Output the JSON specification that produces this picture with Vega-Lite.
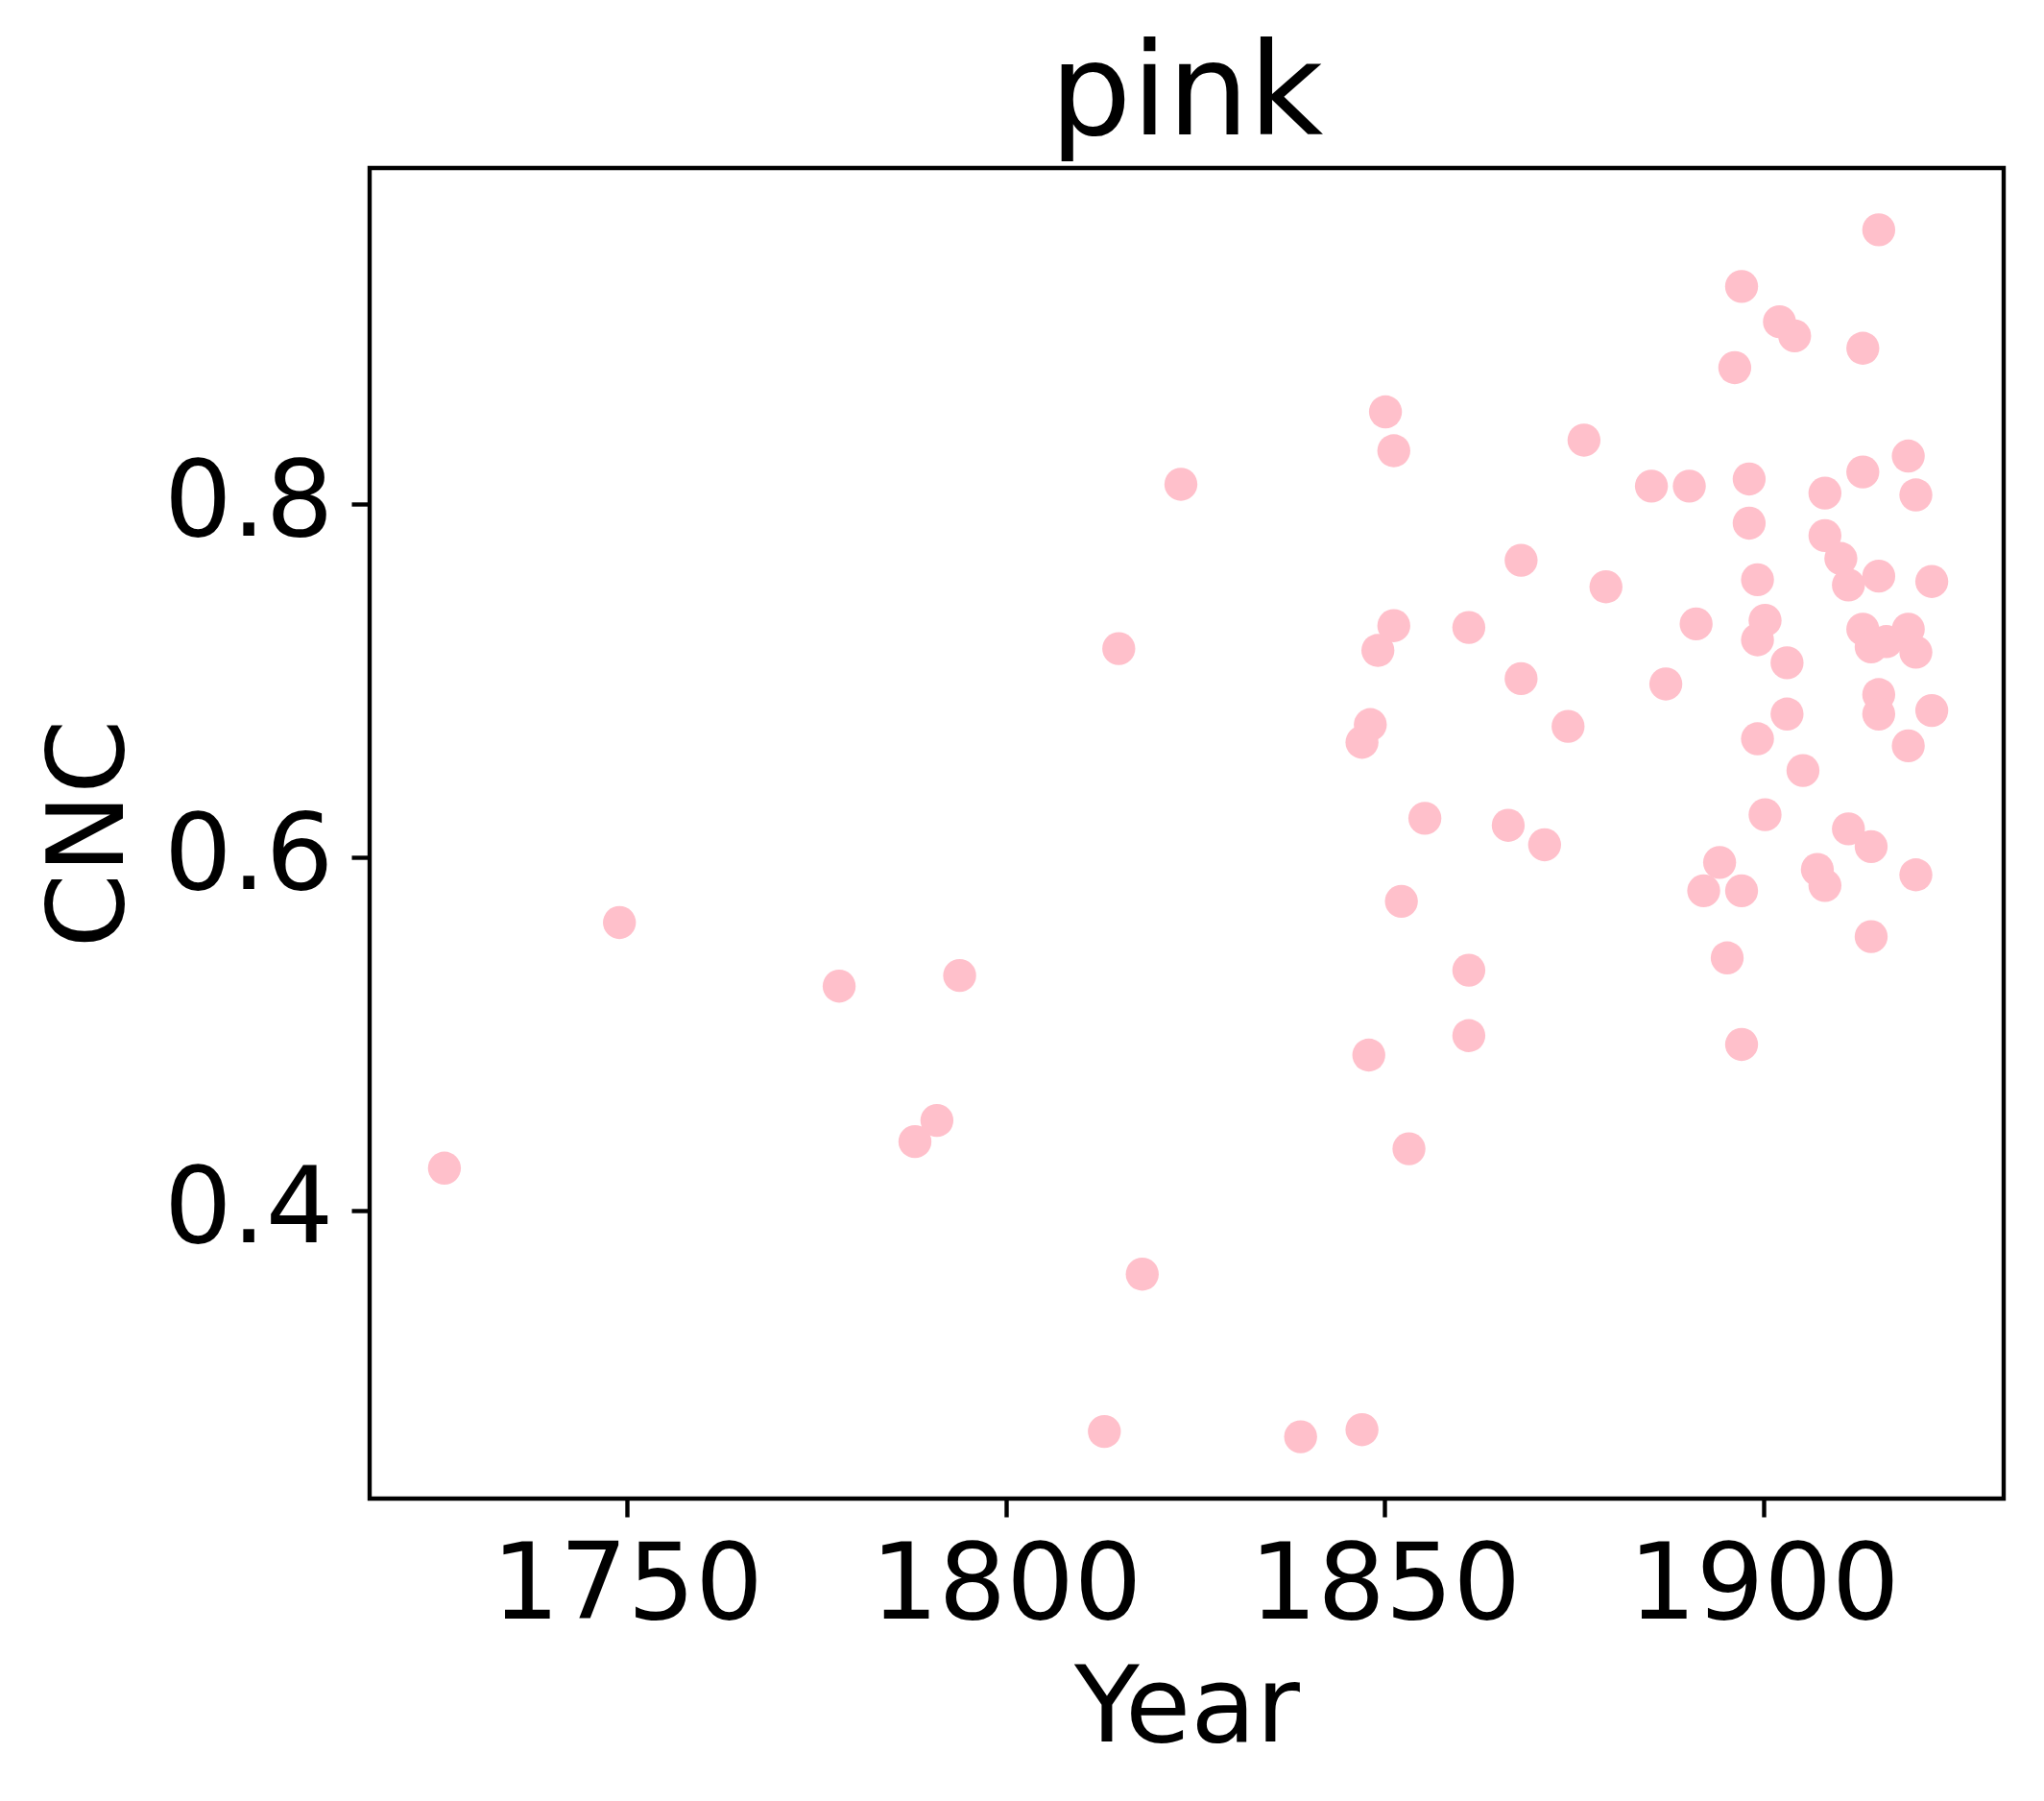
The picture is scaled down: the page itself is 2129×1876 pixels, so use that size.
{
  "$schema": "https://vega.github.io/schema/vega-lite/v6.json",
  "width": 1702,
  "height": 1386,
  "autosize": {"type": "none"},
  "padding": {"left": 385, "top": 175, "right": 42, "bottom": 315},
  "background": "white",
  "config": {
    "view": {"stroke": "black", "strokeWidth": 4.4},
    "font": "DejaVu Sans",
    "axis": {
      "domain": false,
      "grid": false,
      "ticks": true,
      "tickColor": "black",
      "tickWidth": 4.4,
      "tickSize": 19,
      "labelFont": "DejaVu Sans",
      "labelFontSize": 111,
      "labelColor": "black",
      "labelOverlap": false,
      "labelFlush": false,
      "labelLimit": 0,
      "titleFont": "DejaVu Sans",
      "titleFontSize": 111,
      "titleFontWeight": "normal",
      "titleColor": "black",
      "titleLimit": 0
    }
  },
  "title": {
    "text": "pink",
    "font": "DejaVu Sans",
    "fontSize": 134,
    "fontWeight": "normal",
    "color": "black",
    "baseline": "alphabetic",
    "offset": 32,
    "dy": 131,
    "anchor": "middle",
    "limit": 0
  },
  "data": {
    "values": [
      {"Year": 1725.9, "CNC": 0.424},
      {"Year": 1749.0, "CNC": 0.563},
      {"Year": 1778.0, "CNC": 0.527},
      {"Year": 1793.9, "CNC": 0.533},
      {"Year": 1788.0, "CNC": 0.439},
      {"Year": 1790.9, "CNC": 0.451},
      {"Year": 1818.0, "CNC": 0.364},
      {"Year": 1813.0, "CNC": 0.275},
      {"Year": 1814.9, "CNC": 0.718},
      {"Year": 1823.1, "CNC": 0.811},
      {"Year": 1838.9, "CNC": 0.272},
      {"Year": 1847.0, "CNC": 0.276},
      {"Year": 1847.0, "CNC": 0.665},
      {"Year": 1848.1, "CNC": 0.675},
      {"Year": 1847.9, "CNC": 0.488},
      {"Year": 1849.1, "CNC": 0.717},
      {"Year": 1850.1, "CNC": 0.852},
      {"Year": 1851.2, "CNC": 0.830},
      {"Year": 1851.2, "CNC": 0.731},
      {"Year": 1852.2, "CNC": 0.575},
      {"Year": 1853.2, "CNC": 0.435},
      {"Year": 1855.3, "CNC": 0.622},
      {"Year": 1861.1, "CNC": 0.730},
      {"Year": 1861.1, "CNC": 0.536},
      {"Year": 1861.1, "CNC": 0.499},
      {"Year": 1866.3, "CNC": 0.618},
      {"Year": 1868.0, "CNC": 0.768},
      {"Year": 1868.0, "CNC": 0.701},
      {"Year": 1871.1, "CNC": 0.607},
      {"Year": 1874.2, "CNC": 0.674},
      {"Year": 1876.3, "CNC": 0.836},
      {"Year": 1879.2, "CNC": 0.753},
      {"Year": 1885.2, "CNC": 0.810},
      {"Year": 1887.1, "CNC": 0.698},
      {"Year": 1890.2, "CNC": 0.810},
      {"Year": 1891.1, "CNC": 0.732},
      {"Year": 1892.1, "CNC": 0.581},
      {"Year": 1894.2, "CNC": 0.597},
      {"Year": 1895.2, "CNC": 0.543},
      {"Year": 1896.2, "CNC": 0.877},
      {"Year": 1897.1, "CNC": 0.923},
      {"Year": 1897.1, "CNC": 0.581},
      {"Year": 1897.1, "CNC": 0.494},
      {"Year": 1898.1, "CNC": 0.814},
      {"Year": 1898.1, "CNC": 0.789},
      {"Year": 1899.2, "CNC": 0.757},
      {"Year": 1899.2, "CNC": 0.723},
      {"Year": 1899.2, "CNC": 0.667},
      {"Year": 1900.2, "CNC": 0.734},
      {"Year": 1900.2, "CNC": 0.624},
      {"Year": 1902.1, "CNC": 0.903},
      {"Year": 1903.1, "CNC": 0.710},
      {"Year": 1903.1, "CNC": 0.681},
      {"Year": 1904.1, "CNC": 0.895},
      {"Year": 1905.2, "CNC": 0.649},
      {"Year": 1907.1, "CNC": 0.593},
      {"Year": 1908.1, "CNC": 0.806},
      {"Year": 1908.1, "CNC": 0.782},
      {"Year": 1908.1, "CNC": 0.584},
      {"Year": 1910.2, "CNC": 0.769},
      {"Year": 1911.2, "CNC": 0.754},
      {"Year": 1911.2, "CNC": 0.616},
      {"Year": 1913.1, "CNC": 0.888},
      {"Year": 1913.1, "CNC": 0.818},
      {"Year": 1913.1, "CNC": 0.729},
      {"Year": 1914.2, "CNC": 0.719},
      {"Year": 1914.2, "CNC": 0.606},
      {"Year": 1914.2, "CNC": 0.555},
      {"Year": 1915.2, "CNC": 0.955},
      {"Year": 1915.2, "CNC": 0.759},
      {"Year": 1915.2, "CNC": 0.692},
      {"Year": 1915.2, "CNC": 0.681},
      {"Year": 1916.2, "CNC": 0.722},
      {"Year": 1919.1, "CNC": 0.729},
      {"Year": 1919.1, "CNC": 0.827},
      {"Year": 1919.1, "CNC": 0.663},
      {"Year": 1920.1, "CNC": 0.805},
      {"Year": 1920.1, "CNC": 0.716},
      {"Year": 1920.1, "CNC": 0.590},
      {"Year": 1922.2, "CNC": 0.756},
      {"Year": 1922.2, "CNC": 0.683}
    ]
  },
  "mark": {"type": "circle", "color": "#FFC0CB", "opacity": 1, "size": 1180},
  "encoding": {
    "x": {
      "field": "Year",
      "type": "quantitative",
      "scale": {"domain": [1716.03, 1931.69], "nice": false, "zero": false},
      "axis": {
        "title": "Year",
        "values": [1750, 1800, 1850, 1900],
        "format": "d",
        "labelPadding": 17,
        "titlePadding": 18
      }
    },
    "y": {
      "field": "CNC",
      "type": "quantitative",
      "scale": {"domain": [0.237, 0.99], "nice": false, "zero": false},
      "axis": {
        "title": "CNC",
        "values": [0.4, 0.6, 0.8],
        "format": ".1f",
        "labelPadding": 19,
        "titlePadding": 35
      }
    }
  }
}
